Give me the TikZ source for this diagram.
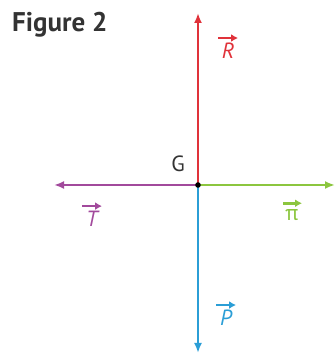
\documentclass[tikz,border=0pt]{standalone}
\usepackage{fontspec}
\setmainfont{PT Sans}
\usetikzlibrary{arrows.meta}
\definecolor{cR}{HTML}{E0323A}
\definecolor{cT}{HTML}{A24A9C}
\definecolor{cPi}{HTML}{8CC63F}
\definecolor{cP}{HTML}{2B9ED6}
\tikzset{
  force/.style={line width=2.4pt,-{Latex[length=10pt,width=8pt]}},
  lab/.style={font=\fontsize{22}{24}\selectfont\itshape,inner sep=0pt},
  tinyarrow/.style={line width=2.6pt,-{Latex[length=7pt,width=8pt]}}
}
\begin{document}
\begin{tikzpicture}[x=1pt,y=1pt]
\useasboundingbox (0,0) rectangle (335,355);
\node[font=\fontsize{27}{29}\selectfont\bfseries,text=black!80,anchor=west,inner sep=0pt] (fig) at (12,330) {Figure 2};
\coordinate (G) at (198,170);
\coordinate (Rt) at (198,342);
\coordinate (Tt) at (54,170);
\coordinate (Pit) at (335,170);
\coordinate (Pt) at (198,2);
\draw[force,cR] (G) -- (Rt);
\draw[force,cT] (G) -- (Tt);
\draw[force,cPi] (G) -- (Pit);
\draw[force,cP] (G) -- (Pt);
\fill[black] (G) circle (2.8pt);
\node[font=\fontsize{22}{24}\selectfont,text=black!80,inner sep=0pt] (gl) at (178,191) {G};
\node[lab,text=cR] (R) at (228,304) {R};
\draw[tinyarrow,cR] ([xshift=-10pt,yshift=5pt]R.north) -- ([xshift=10pt,yshift=5pt]R.north);
\node[lab,text=cT] (T) at (92,136) {T};
\draw[tinyarrow,cT] ([xshift=-10pt,yshift=5pt]T.north) -- ([xshift=10pt,yshift=5pt]T.north);
\node[lab,font=\fontsize{22}{24}\selectfont\upshape,text=cPi] (pi) at (292,140) {π};
\draw[tinyarrow,cPi] ([xshift=-9pt,yshift=6pt]pi.north) -- ([xshift=10pt,yshift=6pt]pi.north);
\node[lab,text=cP] (P) at (226,37) {P};
\draw[tinyarrow,cP] ([xshift=-10pt,yshift=5pt]P.north) -- ([xshift=10pt,yshift=5pt]P.north);
\end{tikzpicture}
\end{document}
